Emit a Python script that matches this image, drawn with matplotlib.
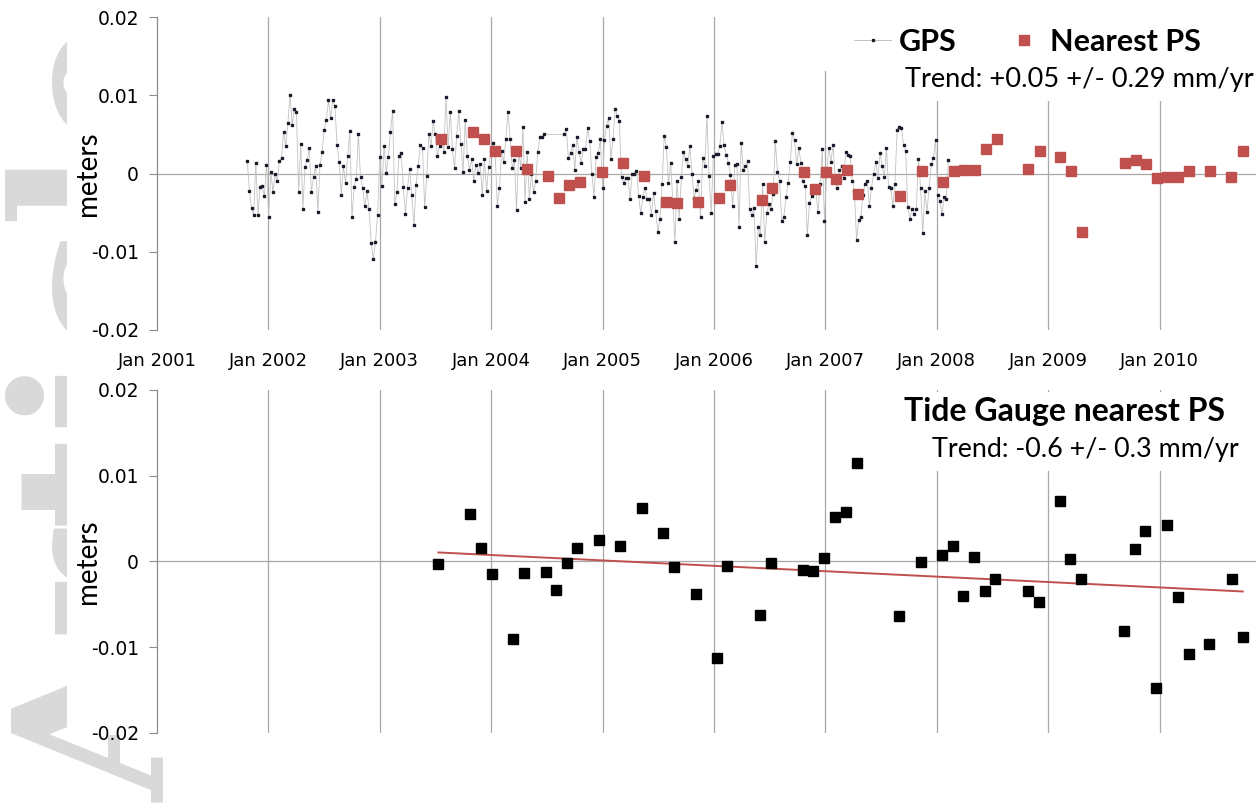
import matplotlib
matplotlib.use("Agg")
import matplotlib.pyplot as plt
import matplotlib.patches as mpatches
from matplotlib.lines import Line2D
import numpy as np
import pandas as pd

# weekly GPS vertical (mm), two runs separated by a data gap
gps_start_1 = "2001-10-24"
gps_mm_1 = [
    1.6, -2.3, -4.4, -5.3, 1.4, -5.3, -1.7, -1.6, -2.9, 1.1,
    -5.6, 0.2, -2.4, -0.1, -1.0, 1.6, 2.0, 5.3, 3.5, 6.5,
    10.0, 6.2, 8.3, 7.9, -2.4, 3.8, -4.5, 0.8, 1.7, 3.3,
    -2.4, -0.4, 1.0, -4.9, 1.1, 2.7, 5.6, 6.8, 9.4, 7.1,
    9.4, 8.6, 3.7, 1.5, -2.7, 0.9, -1.2, 2.3, 5.4, -5.6,
    -1.7, -0.7, 5.0, -0.5, -1.8, -4.2, -2.3, -4.6, -8.9, -10.9,
    -8.8, -5.3, 2.1, -1.6, 3.5, 0.1, 2.1, 5.3, 8.0, -3.9,
    -2.4, 2.3, 2.6, -1.7, -5.2, -1.8, 0.6, -2.8, -6.6, -1.5,
    1.0, 3.6, 3.3, -4.3, -0.3, 5.0, 3.5, 6.7, 5.0, 2.3,
    3.5, 4.5, 2.8, 9.8, 3.4, 7.9, 3.1, 0.7, 4.8, 8.0,
    3.8, 0.2, 6.8, 2.2, 0.5, 1.8, -0.9, 1.1, 0.1, 1.2,
    -2.7, 1.8, -2.2, 0.8, 2.9, 3.9, 2.6, -4.1, -1.9, 2.9,
    1.5, 4.4, 7.9, 4.4, 0.7, 1.7, -4.7, 3.0, 0.7, 5.9,
    -3.7, 2.8, -3.2, 0.0, -2.4, -0.9, 2.8, 4.7, 4.7, 5.0,
]
gps_start_2 = "2004-08-27"
gps_mm_2 = [
    5.0, 5.7, 2.0, 2.6, 3.7, 0.4, 4.7, 2.8, 1.4, 3.1,
    3.1, 5.8, 4.1, 0.0, -3.0, 2.1, 2.6, 4.4, -1.8, 4.3,
    6.1, 7.1, 1.9, 4.4, 8.2, 7.4, 6.7, -0.4, -1.2, -0.6,
    -0.6, -3.3, 0.0, -0.1, 0.3, -2.9, -5.1, -3.0, -1.8, -3.2,
    -3.2, -5.3, -2.5, -4.8, -7.5, -5.8, -1.3, 4.8, 3.4, -1.2,
    1.4, -3.5, -8.7, -0.9, -5.8, -0.5, 2.7, 1.8, 0.9, 3.5,
    0.0, -3.1, -2.1, -1.0, -5.6, 2.0, 1.0, 7.4, -0.3, -5.1,
    2.3, 2.5, 2.5, 3.5, 6.6, 3.6, 2.4, 1.4, -0.2, -4.2,
    1.1, 1.2, -6.8, 3.9, 0.5, 0.9, 1.6, -4.6, -5.3, -4.4,
    -11.8, -6.9, -7.9, -1.4, -8.8, -5.1, -3.9, -4.6, -2.6, 4.2,
    0.2, -0.9, -6.1, -5.5, -3.0, -1.2, 1.5, 5.2, 4.3, 1.2,
    3.3, 1.3, -0.9, -1.6, -7.9, -3.8, -2.9, -2.0, -2.3, -4.9,
    -1.3, 3.1, -6.1, 0.1, 3.3, 1.5, 3.6, -0.6, -1.9, 0.4,
    0.9, -0.6, 2.8, 2.4, 2.2, -0.9, -2.3, -8.5, -5.9, -5.6,
    -2.7, -1.4, -0.9, -4.1, -1.8, 0.0, 1.5, -0.6, 2.6, 1.0,
    -0.5, 3.3, -1.7, -1.9, -4.2, -1.3, 5.5, 6.0, 5.8, 3.7,
    2.9, -4.3, -5.8, -4.5, -5.2, -4.5, 1.9, -1.9, -7.6, -2.3,
    -4.9, -1.9, 1.2, 2.0, 4.3, -2.7, -3.5, -5.2, -3.0, -3.2, 1.7,
]

# nearest PS (decimal year, mm)
ps_year = [
    2003.549, 2003.839, 2003.933, 2004.031, 2004.223, 2004.321, 2004.507,
    2004.606, 2004.701, 2004.797, 2004.990, 2005.183, 2005.372, 2005.566,
    2005.665, 2005.852, 2006.045, 2006.142, 2006.427, 2006.522, 2006.808,
    2006.902, 2007.004, 2007.099, 2007.194, 2007.289, 2007.670, 2007.865,
    2008.056, 2008.151, 2008.247, 2008.342, 2008.441, 2008.536, 2008.822,
    2008.922, 2009.109, 2009.207, 2009.307, 2009.688, 2009.784, 2009.878,
    2009.977, 2010.069, 2010.165, 2010.264, 2010.454, 2010.645, 2010.744,
]
ps_mm = [
    4.4, 5.3, 4.4, 2.9, 2.9, 0.6, -0.3,
    -3.1, -1.5, -1.1, 0.2, 1.3, -0.3, -3.6,
    -3.8, -3.6, -3.1, -1.5, -3.4, -1.9, 0.2,
    -2.0, 0.2, -0.7, 0.5, -2.6, -2.9, 0.3,
    -1.1, 0.3, 0.5, 0.4, 3.1, 4.4, 0.6,
    2.9, 2.1, 0.3, -7.5, 1.3, 1.7, 1.2,
    -0.6, -0.4, -0.4, 0.3, 0.3, -0.5, 2.9,
]

# tide gauge minus nearest PS (decimal year, mm)
tg_year = [
    2003.525, 2003.812, 2003.911, 2004.005, 2004.196, 2004.294, 2004.489,
    2004.584, 2004.683, 2004.773, 2004.965, 2005.159, 2005.354, 2005.542,
    2005.638, 2005.836, 2006.030, 2006.119, 2006.410, 2006.509, 2006.799,
    2006.884, 2006.985, 2007.083, 2007.182, 2007.281, 2007.661, 2007.855,
    2008.049, 2008.145, 2008.238, 2008.334, 2008.430, 2008.525, 2008.821,
    2008.917, 2009.103, 2009.198, 2009.297, 2009.680, 2009.776, 2009.872,
    2009.970, 2010.069, 2010.168, 2010.261, 2010.446, 2010.647, 2010.746,
]
tg_mm = [
    -0.35, 5.5, 1.6, -1.5, -9.0, -1.4, -1.2,
    -3.3, -0.2, 1.6, 2.5, 1.8, 6.2, 3.3,
    -0.7, -3.8, -11.3, -0.5, -6.3, -0.2, -1.0,
    -1.1, 0.4, 5.2, 5.8, 11.5, -6.4, -0.1,
    0.7, 1.8, -4.0, 0.5, -3.5, -2.0, -3.4,
    -4.7, 7.0, 0.3, -2.0, -8.1, 1.5, 3.6,
    -14.8, 4.2, -4.1, -10.8, -9.6, -2.0, -8.8,
]
tg_trend_mm = [1.05, -3.5]   # fitted line at first and last epoch

year_ticks = list(range(2001, 2011))
year_labels = [f"Jan {y}" for y in year_ticks]


def dec_year(start, n):
    t = pd.date_range(start, periods=n, freq="7D")
    return t.year + (t.dayofyear - 1) / 365.25


red = "#C0504D"
grid_c = "#a8a8a8"
lato = "Lato"

fig = plt.figure(figsize=(12.56, 8.1), dpi=100)

# faint journal watermark, mostly hidden behind the pasted chart
fig.text(0.006, 0.01, "Article", rotation=90, fontsize=150, fontweight="bold",
         color="#d9d9d9", family="DejaVu Serif", ha="left", va="bottom", zorder=-3)
fig.add_artist(mpatches.Rectangle((0.0533, 0.0926), 1, 1, transform=fig.transFigure,
                                  facecolor="white", edgecolor="none", zorder=-2))
fig.add_artist(mpatches.Rectangle((0.1354, 0), 1, 0.0926, transform=fig.transFigure,
                                  facecolor="white", edgecolor="none", zorder=-2))

ax1 = fig.add_axes([0.125, 0.5926, 0.875, 0.3864])
ax2 = fig.add_axes([0.125, 0.0951, 0.875, 0.4235])
xlim = (2001.0, 2010.865)

for ax in (ax1, ax2):
    ax.set_xlim(*xlim)
    ax.set_ylim(-0.02, 0.02)
    ax.set_facecolor("white")
    for s in ("top", "right", "bottom"):
        ax.spines[s].set_visible(False)
    ax.spines["left"].set_color("#8c8c8c")
    ax.spines["left"].set_linewidth(0.9)
    ax.set_yticks([0.02, 0.01, 0, -0.01, -0.02])
    ax.set_yticklabels(["0.02", "0.01", "0", "-0.01", "-0.02"])
    ax.tick_params(axis="y", direction="out", length=6, color="#8c8c8c",
                   labelsize=13.5, pad=7)
    ax.set_xticks(year_ticks)
    ax.tick_params(axis="x", length=0)
    for y in year_ticks[1:]:
        ax.axvline(y, color=grid_c, lw=0.9, zorder=1)
    ax.axhline(0, color=grid_c, lw=0.9, zorder=1)
    ax.set_ylabel("meters", family=lato, fontsize=20)
    ax.yaxis.set_label_coords(-0.051, 0.5)

ax1.set_xticklabels(year_labels, fontsize=13)
ax1.tick_params(axis="x", pad=16)
ax2.set_xticklabels([])

# top panel
x1 = dec_year(gps_start_1, len(gps_mm_1))
x2 = dec_year(gps_start_2, len(gps_mm_2))
gx = np.concatenate([x1, x2])
gy = np.array(gps_mm_1 + gps_mm_2) / 1000.0
ax1.plot(gx, gy, color="#c2c2c2", lw=0.6, marker="s", ms=2.0,
         mfc="#1a1a2a", mec="#1a1a2a", zorder=3)
ax1.plot(ps_year, np.array(ps_mm) / 1000.0, ls="none", marker="s", ms=7.8,
         color=red, zorder=4)

# white legend area (Excel legend box hides the gridlines behind it)
ax1.add_patch(mpatches.Rectangle((0.599, 0.827), 0.36, 0.2, transform=ax1.transAxes,
                                 facecolor="white", edgecolor="none", zorder=2,
                                 clip_on=False))
handles = [
    Line2D([], [], color="#c2c2c2", lw=0.7, marker="s", ms=2.0,
           mfc="#1a1a2a", mec="#1a1a2a"),
    Line2D([], [], ls="none", marker="s", ms=6.5, color=red),
]
leg = ax1.legend(handles, ["GPS", "Nearest PS"], loc="center right",
                 bbox_to_anchor=(0.955, 0.92), ncol=2, frameon=True,
                 prop={"family": lato, "weight": "bold", "size": 22},
                 handlelength=1.2, handletextpad=0.25, columnspacing=1.6,
                 borderpad=0.2, borderaxespad=0)
leg.get_frame().set_facecolor("white")
leg.get_frame().set_edgecolor("none")
leg.get_frame().set_alpha(1)

ax1.text(0.998, 0.80, "Trend: +0.05 +/- 0.29 mm/yr", transform=ax1.transAxes,
         ha="right", va="center", family=lato, fontsize=19.6,
         bbox=dict(facecolor="white", edgecolor="none", pad=6), zorder=5)

# bottom panel
ax2.plot(tg_year, np.array(tg_mm) / 1000.0, ls="none", marker="s", ms=6.8,
         color="black", zorder=4)
ax2.plot([tg_year[0], tg_year[-1]], np.array(tg_trend_mm) / 1000.0,
         color=red, lw=1.4, zorder=3)
ax2.text(0.972, 0.936, "Tide Gauge nearest PS", transform=ax2.transAxes,
         ha="right", va="center", family=lato, fontsize=23, fontweight="bold",
         bbox=dict(facecolor="white", edgecolor="none", pad=4), zorder=5)
ax2.text(0.984, 0.825, "Trend: -0.6 +/- 0.3 mm/yr", transform=ax2.transAxes,
         ha="right", va="center", family=lato, fontsize=19.4,
         bbox=dict(facecolor="white", edgecolor="none", pad=6), zorder=5)

fig.savefig("out.png", dpi=100, facecolor="white")
